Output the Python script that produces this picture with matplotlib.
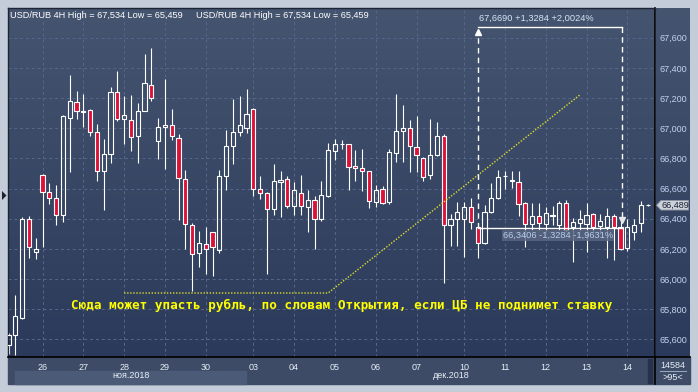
import matplotlib
matplotlib.use('Agg')
import matplotlib.pyplot as plt
import numpy as np
from matplotlib.colors import LinearSegmentedColormap
from matplotlib.patches import Rectangle, Polygon
from matplotlib.lines import Line2D

# USD/RUB 4H candles
opens = [65561, 65628, 65744, 66400, 66179, 66692, 66579, 66539, 66426, 67070,
         67176, 67112, 67123, 66977, 66718, 66831, 67242, 67063, 67056, 66948,
         67116, 67288, 66917, 67010, 67023, 66937, 66665, 66360, 66175, 66234,
         66314, 66194, 66681, 66880, 66978, 67004, 67130, 66600, 66571, 66461,
         66646, 66660, 66485, 66573, 66478, 66523, 66399, 66551, 66850, 66894,
         66892, 66748, 66733, 66713, 66512, 66600, 66512, 66836, 66982, 67002,
         66876, 66805, 66688, 66825, 66949, 66361, 66398, 66398, 66480, 66342,
         66236, 66442, 66535, 66683, 66656, 66645, 66502, 66364, 66420, 66364,
         66420, 66358, 66506, 66347, 66369, 66363, 66431, 66350, 66343, 66418,
         66343, 66203, 66314, 66369, 66489]
highs = [65640, 65893, 66411, 66415, 66274, 66695, 66639, 66621, 67085, 67350,
         67244, 67224, 67127, 67025, 66930, 67273, 67377, 67211, 67222, 67167,
         67494, 67534, 67070, 67328, 67129, 66959, 66720, 66373, 66316, 66343,
         66314, 66720, 66986, 67191, 67212, 67259, 67135, 66682, 66578, 66761,
         66715, 66682, 66644, 66688, 66589, 66549, 66649, 66903, 66927, 66920,
         66898, 66854, 66861, 66717, 66620, 66618, 66861, 67230, 67152, 67053,
         67080, 66810, 67064, 67038, 66960, 66434, 66508, 66513, 66535, 66345,
         66491, 66634, 66723, 66718, 66718, 66718, 66513, 66502, 66502, 66480,
         66484, 66519, 66524, 66402, 66458, 66504, 66440, 66430, 66469, 66431,
         66395, 66396, 66396, 66517, 66495]
lows = [65500, 65496, 65737, 66139, 66133, 66212, 66499, 66356, 66378, 66709,
        67059, 67008, 66946, 66650, 66455, 66769, 67047, 66893, 66849, 66766,
        67112, 67180, 66793, 66729, 66922, 66393, 66201, 65920, 66080, 66031,
        66018, 66172, 66592, 66765, 66947, 66969, 66549, 66529, 66036, 66423,
        66408, 66472, 66423, 66423, 66313, 66198, 66386, 66545, 66788, 66865,
        66589, 66651, 66584, 66474, 66478, 66496, 66496, 66777, 66777, 66710,
        66710, 66651, 66660, 66814, 65975, 66220, 66221, 66143, 66331, 66137,
        66231, 66435, 66528, 66594, 66601, 66420, 66214, 66325, 66325, 66314,
        66358, 66325, 66314, 66115, 66325, 66181, 66314, 66300, 66137, 66126,
        66190, 66186, 66258, 66314, 66485]
closes = [65627, 65754, 66400, 66212, 66201, 66577, 66535, 66426, 67078, 67178,
          67112, 67105, 66977, 66718, 66831, 67242, 67061, 67089, 66941, 67116,
          67297, 67202, 67008, 67021, 66946, 66672, 66367, 66168, 66241, 66201,
          66212, 66681, 66882, 66977, 67024, 67093, 66600, 66567, 66461, 66649,
          66655, 66485, 66589, 66485, 66523, 66399, 66556, 66854, 66892, 66898,
          66744, 66733, 66715, 66518, 66589, 66501, 66839, 66982, 67002, 66881,
          66825, 66673, 66825, 66949, 66361, 66399, 66442, 66480, 66376, 66236,
          66442, 66535, 66674, 66686, 66652, 66497, 66364, 66420, 66373, 66435,
          66422, 66502, 66325, 66376, 66396, 66424, 66343, 66385, 66418, 66343,
          66197, 66346, 66360, 66489, 66489]

day_idx = [5, 11, 17, 23, 29, 36, 42, 48, 54, 60, 67, 73, 79, 85, 91]
day_labels = ['26', '27', '28', '29', '30', '03', '04', '05', '06', '07',
              '10', '11', '12', '13', '14']
price_ticks = list(range(65600, 67601, 200))

# trend sketch and measurement tool
level_line_x = [17, 47, 84]
level_line_y = [65907, 65907, 67220]
meas_x = [69, 90.2]
meas_lo, meas_hi = 66340.6, 67669.0
last_price = 66489

W, H = 698, 392
def fx(x): return x / W
def fy(y): return 1 - y / H

fig = plt.figure(figsize=(6.98, 3.92), dpi=100, facecolor='#c3ccd8')
fnt = 'Liberation Sans'

# panels
fig.patches.append(Rectangle((fx(8), fy(384)), 682 / W, 27 / H, transform=fig.transFigure,
                             color='#3d4b66', zorder=-2))
fig.patches.append(Rectangle((fx(15), fy(384)), 231 / W, 13 / H, transform=fig.transFigure,
                             color='#4b5a76', zorder=-1))
fig.patches.append(Rectangle((fx(647.5), fy(383)), 4.5 / W, 24 / H, transform=fig.transFigure,
                             color='#27324a', zorder=-1))

bg = LinearSegmentedColormap.from_list('bg', ['#45546f', '#2b3a5a'])
grad = np.linspace(0, 1, 256).reshape(-1, 1)

axr = fig.add_axes([fx(656), fy(357), 34 / W, 349 / H])
axr.imshow(grad, cmap=bg, aspect='auto', extent=[0, 1, 0, 1])
axr.axis('off')
axr.set_zorder(-0.5)

ax = fig.add_axes([fx(8), fy(357), 647 / W, 349 / H])
ax.imshow(grad, cmap=bg, aspect='auto', extent=[0, 1, 0, 1], transform=ax.transAxes, zorder=0)

x = np.arange(len(opens))
o = np.array(opens); c = np.array(closes); hi = np.array(highs); lo = np.array(lows)
top = np.maximum(o, c); bot = np.minimum(o, c)
up = c >= o
ax.vlines(x, top, hi, color='white', lw=0.8, zorder=2)
ax.vlines(x, lo, bot, color='white', lw=0.8, zorder=2)
hgt = np.maximum(top - bot, 3)
ax.bar(x[up], hgt[up], bottom=bot[up], width=0.6, facecolor='none',
       edgecolor='white', lw=0.8, zorder=3)
ax.bar(x[~up], hgt[~up], bottom=bot[~up], width=0.6, facecolor='#de1239',
       edgecolor='white', lw=0.8, zorder=3)

# yellow dotted sketch + caption
ax.plot(level_line_x, level_line_y, color='#dede2c', lw=1, linestyle=(0, (1, 1.2)), zorder=4)
ax.text(49.0, 65823, 'Сюда может упасть рубль, по словам Открытия, если ЦБ не поднимет ставку',
        color='#ffff00', fontsize=9.1, family='DejaVu Sans Mono', weight='bold',
        ha='center', va='center', zorder=5)

# measurement
ax.plot(meas_x, [meas_lo, meas_lo], color='white', lw=1, zorder=4)
ax.plot(meas_x, [meas_hi, meas_hi], color='white', lw=1, zorder=4)
ax.plot([meas_x[0]] * 2, [meas_lo, meas_hi - 20], color='white', lw=1,
        linestyle=(0, (4, 3)), zorder=4)
ax.plot([meas_x[1]] * 2, [meas_hi, meas_lo + 40], color='white', lw=1,
        linestyle=(0, (4, 3)), zorder=4)
ax.plot(meas_x[0], meas_hi - 30, marker='^', ms=4, color='white', zorder=4)
ax.plot(meas_x[1], meas_lo + 50, marker='v', ms=4, color='#e8e8e8', zorder=4)
diff = meas_hi - meas_lo
ax.text(69.24, 67726, '67,6690 +1,3284 +2,0024%', color='#d8e4f4', fontsize=6.7,
        family=fnt, ha='left', va='center', zorder=5)
ax.text(72.7, 66289, '66,3406 -1,3284 -1,9631%', color='#b4cdf0', fontsize=6.7,
        family=fnt, ha='left', va='center', zorder=5,
        bbox=dict(boxstyle='square,pad=0.12', fc='#5a6680', ec='none', alpha=0.85))

ax.set_xlim(-0.074, 95.07)
ax.set_ylim(65482.6, 67797)
ax.set_xticks(day_idx)
ax.set_xticklabels(day_labels)
ax.set_yticks(price_ticks)
ax.set_yticklabels([f'{v:,}' for v in price_ticks])
ax.yaxis.tick_right()
ax.tick_params(axis='x', length=0, pad=4, labelsize=6.5, labelcolor='#e8eef8')
ax.tick_params(axis='y', length=0, pad=3, labelsize=6.5, labelcolor='#c0d4f0')
for lab in ax.get_xticklabels() + ax.get_yticklabels():
    lab.set_family(fnt)
ax.grid(True, color='#56678a', linestyle=(0, (3, 3)), linewidth=0.7)
ax.set_axisbelow(True)
for s in ['top', 'left']:
    ax.spines[s].set_color('#1c2436')
    ax.spines[s].set_linewidth(1)
for s in ['bottom', 'right']:
    ax.spines[s].set_color('black')
    ax.spines[s].set_linewidth(1.2)

# black separators extending through panels
fig.lines.append(Line2D([fx(655), fx(690)], [fy(357), fy(357)], color='black', lw=1.2,
                        transform=fig.transFigure))
fig.lines.append(Line2D([fx(655.2), fx(655.2)], [fy(357), fy(384)], color='black', lw=1.2,
                        transform=fig.transFigure))
fig.lines.append(Line2D([fx(660), fx(686)], [fy(371), fy(371)], color='#98a4b8', lw=0.8,
                        transform=fig.transFigure))

# header
hdr = 'USD/RUB 4H High = 67,534 Low = 65,459'
fig.text(fx(10), fy(15), hdr, color='white', fontsize=6.6, family=fnt, va='center')
fig.text(fx(196), fy(15), hdr, color='white', fontsize=6.6, family=fnt, va='center')

# month labels
fig.text(fx(131), fy(376), 'ноя.2018', color='#e8eef8', fontsize=6.5, family=fnt,
         ha='center', va='center')
fig.text(fx(451), fy(376), 'дек.2018', color='#e8eef8', fontsize=6.5, family=fnt,
         ha='center', va='center')

# corner box
fig.text(fx(673), fy(365), '14584', color='#e8eef8', fontsize=6.5, family=fnt,
         ha='center', va='center')
fig.text(fx(673), fy(377.5), '>95<', color='#e8eef8', fontsize=6.5, family=fnt,
         ha='center', va='center')

# last price tag
yp = 37.7 + (67600 - last_price) * 0.1508
tag = Polygon([(fx(656.5), fy(yp)), (fx(661), fy(yp - 4.8)), (fx(688.5), fy(yp - 4.8)),
               (fx(688.5), fy(yp + 4.8)), (fx(661), fy(yp + 4.8))],
              closed=True, transform=fig.transFigure, fc='#ccd1da', ec='#8a93a2', lw=0.6,
              zorder=5)
fig.patches.append(tag)
fig.text(fx(662), fy(yp), f'{last_price:,}', color='#1a2030', fontsize=6.5, family=fnt,
         va='center', zorder=6)

# left scroll marker
fig.patches.append(Polygon([(fx(2), fy(191)), (fx(6.5), fy(195.5)), (fx(2), fy(200))],
                           closed=True, transform=fig.transFigure, fc='#1c2230', zorder=5))

fig.savefig('out.png', dpi=100, facecolor=fig.get_facecolor())
